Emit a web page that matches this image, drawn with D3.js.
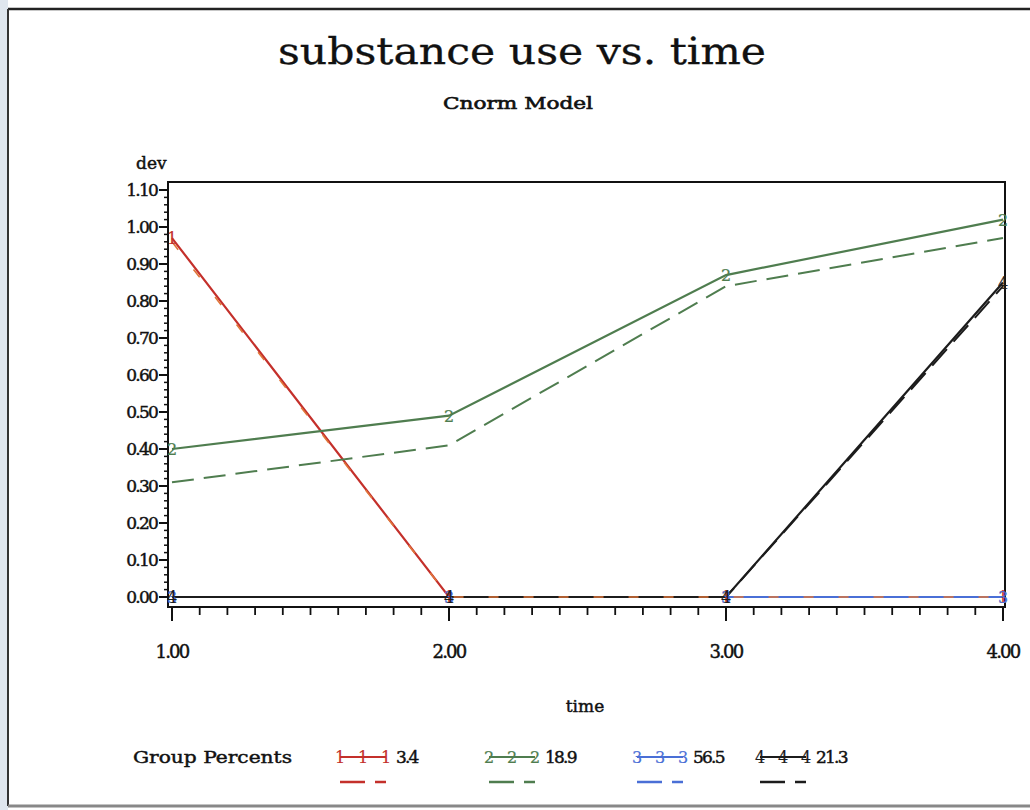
<!DOCTYPE html>
<html>
<head>
<meta charset="utf-8">
<script src="https://cdn.jsdelivr.net/npm/d3@7"></script>
<style>
  body { margin: 0; background: #fff; }
  text { font-family: "DejaVu Serif", "Liberation Serif", serif; fill: #111; stroke: #111; stroke-width: 0.45px; }
</style>
</head>
<body>
<script>
// DATA
var times = [1, 2, 3, 4];
var groups = ["1", "2", "3", "4"];
var groupPercents = ["3.4", "18.9", "56.5", "21.3"];
var observed1 = [0.97, 0.00, 0.00, 0.00];
var observed2 = [0.40, 0.49, 0.87, 1.02];
var observed3 = [0.00, 0.00, 0.00, 0.00];
var observed4 = [0.00, 0.00, 0.00, 0.85];
var predicted1 = [0.96, 0.00, 0.00, 0.00];
var predicted2 = [0.31, 0.41, 0.84, 0.97];
var predicted3 = [0.00, 0.00, 0.00, 0.00];
var predicted4 = [0.00, 0.00, 0.00, 0.84];
var yTicks = [0, 0.1, 0.2, 0.3, 0.4, 0.5, 0.6, 0.7, 0.8, 0.9, 1.0, 1.1];
var xTicks = [1, 2, 3, 4];

var colors = ["#c4302b", "#4f7d4f", "#4a6fd6", "#1c1c1c"];
var dashColors = ["#e0763a", "#4f7d4f", "#4a6fd6", "#1c1c1c"];

var observed = [observed1, observed2, observed3, observed4];
var predicted = [predicted1, predicted2, predicted3, predicted4];

var svg = d3.select("body")
    .append("svg")
    .attr("width", 1030)
    .attr("height", 810);

// scanned page edge
svg.append("rect").attr("x", 0).attr("y", 0).attr("width", 8).attr("height", 810).attr("fill", "#dfe6ee");
svg.append("line").attr("x1", 8).attr("x2", 1030).attr("y1", 9).attr("y2", 9)
    .attr("stroke", "#222").attr("stroke-width", 2.5);
svg.append("line").attr("x1", 8).attr("x2", 8).attr("y1", 9).attr("y2", 806)
    .attr("stroke", "#333").attr("stroke-width", 2);
svg.append("line").attr("x1", 8).attr("x2", 1030).attr("y1", 806).attr("y2", 806)
    .attr("stroke", "#888").attr("stroke-width", 3);

// titles
svg.append("text").attr("x", 522).attr("y", 64).attr("text-anchor", "middle")
    .attr("font-size", 38).attr("textLength", 488).attr("lengthAdjust", "spacingAndGlyphs")
    .style("stroke-width", "0.3px")
    .text("substance use vs. time");
svg.append("text").attr("x", 518).attr("y", 109).attr("text-anchor", "middle")
    .attr("font-size", 17).attr("textLength", 150).attr("lengthAdjust", "spacingAndGlyphs")
    .style("stroke-width", "0.6px")
    .text("Cnorm Model");

// scales
const x = d3.scaleLinear().domain([1, 4]).range([172, 1003]);
const y = d3.scaleLinear().domain([0, 1.1]).range([597, 190]);

const frame = {left: 168, right: 1005, top: 182, bottom: 607};

svg.append("rect")
    .attr("x", frame.left).attr("y", frame.top)
    .attr("width", frame.right - frame.left).attr("height", frame.bottom - frame.top)
    .attr("fill", "none").attr("stroke", "#111").attr("stroke-width", 2);

// y axis
const yAxis = svg.append("g").attr("transform", "translate(" + frame.left + ",0)");
yAxis.selectAll("line.minor").data(d3.range(0, 1.1001, 0.02))
    .enter().append("line")
    .attr("x1", -4).attr("x2", 0)
    .attr("y1", d => y(d)).attr("y2", d => y(d))
    .attr("stroke", "#111").attr("stroke-width", 1.5);
yAxis.selectAll("line.major").data(yTicks)
    .enter().append("line")
    .attr("x1", -9).attr("x2", 0)
    .attr("y1", d => y(d)).attr("y2", d => y(d))
    .attr("stroke", "#111").attr("stroke-width", 2);
yAxis.selectAll("text").data(yTicks)
    .enter().append("text")
    .attr("x", -11).attr("y", d => y(d) + 6)
    .attr("text-anchor", "end").attr("font-size", 17).attr("letter-spacing", -1.8)
    .text(d => d3.format(".2f")(d));
svg.append("text").attr("x", 136).attr("y", 169).attr("font-size", 17).text("dev");

// x axis
const xAxis = svg.append("g").attr("transform", "translate(0," + frame.bottom + ")");
xAxis.selectAll("line.minor").data(d3.range(1, 4.001, 0.1))
    .enter().append("line")
    .attr("x1", d => x(d)).attr("x2", d => x(d))
    .attr("y1", 0).attr("y2", 8)
    .attr("stroke", "#111").attr("stroke-width", 1.8);
xAxis.selectAll("line.major").data(xTicks)
    .enter().append("line")
    .attr("x1", d => x(d)).attr("x2", d => x(d))
    .attr("y1", 0).attr("y2", 14)
    .attr("stroke", "#111").attr("stroke-width", 2);
xAxis.selectAll("text").data(xTicks)
    .enter().append("text")
    .attr("x", d => x(d)).attr("y", 51)
    .attr("text-anchor", "middle").attr("font-size", 18).attr("letter-spacing", -1.8)
    .text(d => d3.format(".2f")(d));
svg.append("text").attr("x", 585).attr("y", 712).attr("text-anchor", "middle")
    .attr("font-size", 17).text("time");

// lines
const line = d3.line().x((d, i) => x(times[i])).y(d => y(d));
const plot = svg.append("g");

[0, 1, 2, 3].forEach(function(g) {
    plot.append("path").datum(observed[g])
        .attr("d", line).attr("fill", "none")
        .attr("stroke", colors[g]).attr("stroke-width", 2.2);
});
[1, 2, 3, 0].forEach(function(g) {
    plot.append("path").datum(predicted[g])
        .attr("d", line).attr("fill", "none")
        .attr("stroke", dashColors[g]).attr("stroke-width", g === 0 ? 1.6 : 2)
        .attr("stroke-dasharray", g === 0 ? "10,25" : "22,10");
});

// point symbols
[0, 1, 2, 3].forEach(function(g) {
    plot.selectAll(null).data(observed[g])
        .enter().append("text")
        .attr("x", (d, i) => x(times[i]))
        .attr("y", d => y(d) + 6)
        .attr("text-anchor", "middle").attr("font-size", 16)
        .style("fill", colors[g]).style("stroke", colors[g]).style("stroke-width", "0.2px")
        .text(groups[g]);
});

// legend
svg.append("text").attr("x", 133).attr("y", 763).attr("font-size", 17)
    .attr("textLength", 159).attr("lengthAdjust", "spacingAndGlyphs")
    .text("Group Percents");
var legendX = [340, 489, 637, 760];
const leg = svg.selectAll("g.leg").data(groups).enter().append("g")
    .attr("transform", (d, i) => "translate(" + legendX[i] + ",0)");
leg.append("line").attr("x1", 0).attr("x2", 46).attr("y1", 757).attr("y2", 757)
    .attr("stroke", (d, i) => colors[i]).attr("stroke-width", 2);
leg.selectAll("text.sym").data((d, i) => [0, 1, 2].map(k => ({k: k, g: i})))
    .enter().append("text")
    .attr("x", d => d.k * 23).attr("y", 763)
    .attr("text-anchor", "middle").attr("font-size", 16)
    .style("fill", d => colors[d.g]).style("stroke", d => colors[d.g]).style("stroke-width", "0.2px")
    .text(d => groups[d.g]);
leg.append("text").attr("x", 56).attr("y", 763).attr("font-size", 17).attr("letter-spacing", -1.8)
    .text((d, i) => groupPercents[i]);
leg.append("line").attr("x1", 0).attr("x2", 46).attr("y1", 782).attr("y2", 782)
    .attr("stroke", (d, i) => colors[i]).attr("stroke-width", 2.5)
    .attr("stroke-dasharray", "25,10,11");
</script>
</body>
</html>
